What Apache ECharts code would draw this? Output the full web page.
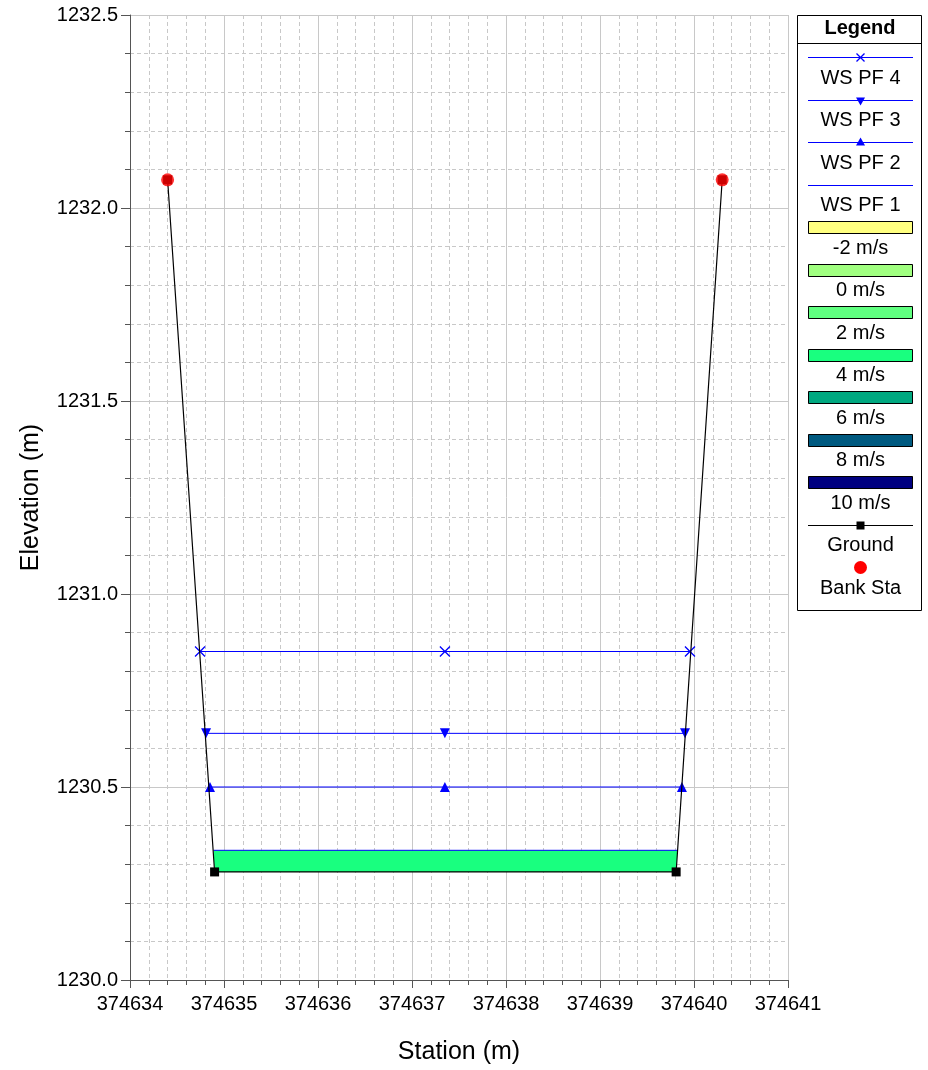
<!DOCTYPE html>
<html>
<head>
<meta charset="utf-8">
<script src="https://cdn.jsdelivr.net/npm/echarts@6/dist/echarts.min.js"></script>
<style>
  html, body { margin: 0; padding: 0; background: #fff; }
  #chart { width: 928px; height: 1070px; }
</style>
</head>
<body>
<div id="chart"></div>
<script>
// ground profile (station, elevation)
const ground = [[374634.40, 1232.073], [374634.90, 1230.28], [374639.81, 1230.28], [374640.30, 1232.073]]
const bankSta = [[374634.40, 1232.073], [374640.30, 1232.073]]
// water surfaces: left edge, middle marker, right edge
const wsPF4 = [[374634.745, 1230.851], [374637.35, 1230.851], [374639.957, 1230.851]]
const wsPF3 = [[374634.809, 1230.639], [374637.35, 1230.639], [374639.904, 1230.639]]
const wsPF2 = [[374634.851, 1230.50], [374637.35, 1230.50], [374639.872, 1230.50]]
const wsPF1 = [[374634.888, 1230.336], [374639.825, 1230.336]]
// flow area coloured by velocity (4 m/s)
const flowArea = [[374634.888, 1230.336], [374639.825, 1230.336], [374639.81, 1230.28], [374634.90, 1230.28]]

const legendNames = ['WS PF 4', 'WS PF 3', 'WS PF 2', 'WS PF 1', '-2 m/s', '0 m/s', '2 m/s', '4 m/s', '6 m/s', '8 m/s', '10 m/s', 'Ground', 'Bank Sta']
const velColors = ['#ffff80', '#a0ff80', '#60ff80', '#19ff7f', '#00a880', '#005a80', '#000080']

const blue = '#0000ff'
const font = 'Liberation Sans, Arial, sans-serif'
const chart = echarts.init(document.getElementById('chart'))

// 图例 (legend box drawn with graphic elements)
function buildLegend() {
  const els = []
  const x0 = 797, x1 = 921, top = 15
  els.push({ type: 'rect', shape: { x: x0 + 0.5, y: top + 0.5, width: x1 - x0, height: 595 }, style: { fill: '#fff', stroke: '#000', lineWidth: 1 } })
  els.push({ type: 'text', x: (x0 + x1) / 2 + 1, y: 28, style: { text: 'Legend', font: 'bold 20px ' + font, fill: '#000', align: 'center', verticalAlign: 'middle' } })
  els.push({ type: 'line', shape: { x1: x0, y1: 43.5, x2: x1, y2: 43.5 }, style: { stroke: '#000', lineWidth: 1 } })
  const step = 42.5
  legendNames.forEach((name, i) => {
    const yl = Math.round(57 + i * step) + 0.5
    const yt = 78 + i * step
    const cx = 860.5
    if (i < 4) {
      els.push({ type: 'line', shape: { x1: 808, y1: yl, x2: 913, y2: yl }, style: { stroke: blue, lineWidth: 1 } })
      if (i === 0) {
        els.push({ type: 'line', shape: { x1: cx - 4, y1: yl - 4, x2: cx + 4, y2: yl + 4 }, style: { stroke: blue, lineWidth: 1.3 } })
        els.push({ type: 'line', shape: { x1: cx + 4, y1: yl - 4, x2: cx - 4, y2: yl + 4 }, style: { stroke: blue, lineWidth: 1.3 } })
      } else if (i === 1) {
        els.push({ type: 'polygon', shape: { points: [[cx - 4.5, yl - 3], [cx + 4.5, yl - 3], [cx, yl + 5]] }, style: { fill: blue } })
      } else if (i === 2) {
        els.push({ type: 'polygon', shape: { points: [[cx - 4.5, yl + 3], [cx + 4.5, yl + 3], [cx, yl - 5]] }, style: { fill: blue } })
      }
    } else if (i < 11) {
      els.push({ type: 'rect', shape: { x: 808.5, y: yl - 6, width: 104, height: 12 }, style: { fill: velColors[i - 4], stroke: '#000', lineWidth: 1 } })
    } else if (i === 11) {
      els.push({ type: 'line', shape: { x1: 808, y1: yl, x2: 913, y2: yl }, style: { stroke: '#000', lineWidth: 1 } })
      els.push({ type: 'rect', shape: { x: cx - 4, y: yl - 4, width: 8, height: 8 }, style: { fill: '#000' } })
    } else {
      els.push({ type: 'circle', shape: { cx: cx, cy: yl, r: 6.5 }, style: { fill: '#ff0000' } })
    }
    els.push({ type: 'text', x: cx, y: yt, style: { text: name, font: '20px ' + font, fill: '#000', align: 'center', verticalAlign: 'middle' } })
  })
  return els
}

function wsSeries(name, data, symbol, rotate) {
  return {
    name: name,
    type: 'line',
    data: data,
    symbol: symbol,
    symbolSize: 10,
    symbolRotate: rotate || 0,
    showSymbol: symbol !== 'none',
    lineStyle: { color: blue, width: 1 },
    itemStyle: { color: blue, borderColor: blue, borderWidth: symbol.indexOf('path') === 0 ? 1.3 : 0 },
    z: 4
  }
}

const option = {
  animation: false,
  backgroundColor: '#fff',
  grid: { left: 130, right: 140, top: 15, bottom: 89 },
  xAxis: {
    type: 'value',
    min: 374634,
    max: 374641,
    interval: 1,
    name: 'Station (m)',
    nameLocation: 'middle',
    nameGap: 60,
    nameTextStyle: { fontSize: 25, fontFamily: font, color: '#000' },
    axisLine: { show: true, onZero: false, lineStyle: { color: '#555', width: 1 } },
    axisTick: { show: true, inside: false, length: 8, lineStyle: { color: '#555' } },
    minorTick: { show: true, splitNumber: 5, length: 5, lineStyle: { color: '#555' } },
    axisLabel: { fontSize: 20, fontFamily: font, color: '#000', margin: 14, formatter: v => String(v) },
    splitLine: { show: true, lineStyle: { color: '#c8c8c8', width: 1 } },
    minorSplitLine: { show: true, lineStyle: { color: '#c8c8c8', type: [4, 3], width: 1 } }
  },
  yAxis: {
    type: 'value',
    min: 1230,
    max: 1232.5,
    interval: 0.5,
    name: 'Elevation (m)',
    nameLocation: 'middle',
    nameGap: 86,
    nameTextStyle: { fontSize: 25, fontFamily: font, color: '#000' },
    axisLine: { show: true, onZero: false, lineStyle: { color: '#555', width: 1 } },
    axisTick: { show: true, inside: false, length: 9, lineStyle: { color: '#555' } },
    minorTick: { show: true, splitNumber: 5, length: 5, lineStyle: { color: '#555' } },
    axisLabel: { fontSize: 20, fontFamily: font, color: '#000', margin: 12, formatter: v => v.toFixed(1) },
    splitLine: { show: true, lineStyle: { color: '#c8c8c8', width: 1 } },
    minorSplitLine: { show: true, lineStyle: { color: '#c8c8c8', type: [4, 3], width: 1 } }
  },
  graphic: buildLegend(),
  series: [
    {
      name: 'flow',
      type: 'custom',
      data: flowArea,
      encode: { x: 0, y: 1 },
      z: 2,
      renderItem(params, api) {
        if (params.dataIndex !== 0) return null
        const pts = flowArea.map(p => api.coord(p))
        return { type: 'polygon', shape: { points: pts }, style: { fill: velColors[3] } }
      }
    },
    wsSeries('WS PF 1', wsPF1, 'none'),
    wsSeries('WS PF 2', wsPF2, 'triangle'),
    wsSeries('WS PF 3', wsPF3, 'triangle', 180),
    wsSeries('WS PF 4', wsPF4, 'path://M0,0L10,10M10,0L0,10'),
    {
      name: 'Ground',
      type: 'line',
      data: ground,
      symbol: 'rect',
      symbolSize: 9,
      lineStyle: { color: '#000', width: 1.2 },
      itemStyle: { color: '#000' },
      z: 5
    },
    {
      name: 'Bank Sta',
      type: 'scatter',
      data: bankSta,
      symbol: 'circle',
      symbolSize: 13,
      itemStyle: { color: '#ff0000' },
      z: 6
    }
  ]
}
chart.setOption(option)
</script>
</body>
</html>
